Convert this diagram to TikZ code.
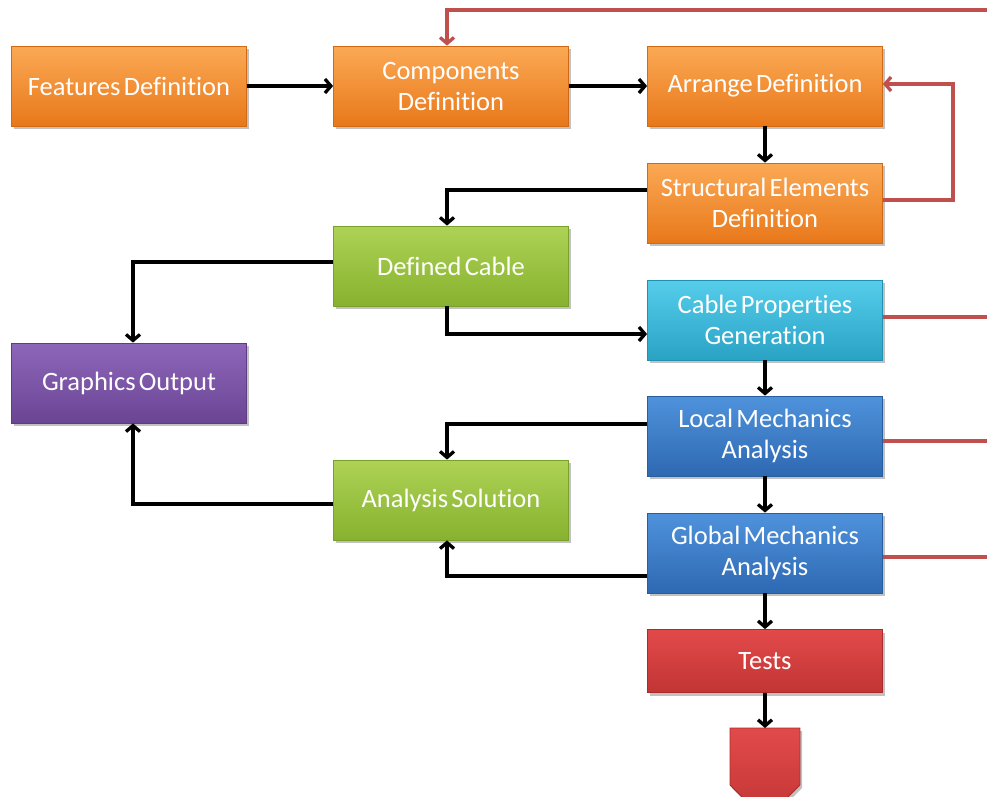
\documentclass[tikz,border=0pt]{standalone}
\usepackage{fontspec}
\setmainfont{Carlito}[Ligatures=NoCommon, WordSpace=0.55]
\usetikzlibrary{arrows.meta,shadows}

% fill colours (top / bottom of each gradient) and edges
\definecolor{orT}{HTML}{FBA955}\definecolor{orB}{HTML}{E8781A}\definecolor{orE}{HTML}{D06A14}
\definecolor{grT}{HTML}{AED255}\definecolor{grB}{HTML}{87B22F}\definecolor{grE}{HTML}{78A02A}
\definecolor{cyT}{HTML}{55CDEB}\definecolor{cyB}{HTML}{2AA2C4}\definecolor{cyE}{HTML}{2290AE}
\definecolor{blT}{HTML}{4F92DC}\definecolor{blB}{HTML}{2E69B2}\definecolor{blE}{HTML}{285D9E}
\definecolor{puT}{HTML}{8D66BA}\definecolor{puB}{HTML}{6B4594}\definecolor{puE}{HTML}{5E3C84}
\definecolor{rdT}{HTML}{E24A4A}\definecolor{rdB}{HTML}{C23434}\definecolor{rdE}{HTML}{A82C2C}
\definecolor{loopred}{HTML}{C0504D}

\tikzset{
  box/.style={rectangle, minimum width=235pt, minimum height=80pt, inner sep=0pt,
    align=center, text=white, font=\fontsize{26.5}{31}\selectfont, line width=0.8pt,
    drop shadow={shadow xshift=2pt, shadow yshift=-3pt, opacity=0.35, fill=black!70}},
  orangebox/.style={box, top color=orT, bottom color=orB, draw=orE},
  greenbox/.style={box, top color=grT, bottom color=grB, draw=grE},
  cyanbox/.style={box, top color=cyT, bottom color=cyB, draw=cyE},
  bluebox/.style={box, top color=blT, bottom color=blB, draw=blE},
  purplebox/.style={box, top color=puT, bottom color=puB, draw=puE},
  redbox/.style={box, top color=rdT, bottom color=rdB, draw=rdE},
  flow/.style={draw=black, line width=3.3pt, line join=miter,
    -{Straight Barb[length=6pt, width=14pt]}},
  loopback/.style={draw=loopred, line width=3.3pt,
    -{Straight Barb[length=6pt, width=14pt]}},
  loopline/.style={draw=loopred, line width=3.3pt},
}

\begin{document}
\begin{tikzpicture}[x=1pt, y=-1pt]
\useasboundingbox (0,0) rectangle (987,796);

% process boxes
\node[orangebox] (feat)   at (129,86)  {Features Definition};
\node[orangebox] (comp)   at (451,86)  {Components\\Definition};
\node[orangebox] (arr)    at (765,86)  {Arrange Definition};
\node[orangebox] (struct) at (765,203)  {Structural Elements\\Definition};
\node[greenbox]  (cable)  at (451,266) {Defined Cable};
\node[cyanbox]   (cprop)  at (765,320) {Cable Properties\\Generation};
\node[purplebox] (gfx)    at (129,383) {Graphics Output};
\node[bluebox]   (local)  at (765,436) {Local Mechanics\\Analysis};
\node[greenbox]  (sol)    at (451,500) {Analysis Solution};
\node[bluebox]   (global) at (765,553) {Global Mechanics\\Analysis};
\node[redbox, minimum height=63pt] (tests) at (765,661) {Tests};

% terminal pentagon below the tests
\coordinate (endtop) at (765,728);
\path[top color=rdT, bottom color=rdB, draw=rdE, line width=0.8pt,
      drop shadow={shadow xshift=2pt, shadow yshift=-3pt, opacity=0.35, fill=black!70}]
  (730,728) -- (800,728) -- (800,785) -- (765,820) -- (730,785) -- cycle;

% main flow
\draw[flow] (feat) -- (comp);
\draw[flow] (comp) -- (arr);
\draw[flow] (arr) -- (struct);
\draw[flow] ([yshift=13pt]struct.west) -| ([xshift=-4pt]cable.north);
\draw[flow] ([yshift=4pt]cable.west) -| ([xshift=4pt]gfx.north);
\draw[flow] ([xshift=-4pt]cable.south) |- ([yshift=-14pt]cprop.west);
\draw[flow] (cprop) -- (local);
\draw[flow] ([yshift=12pt]local.west) -| ([xshift=-4pt]sol.north);
\draw[flow] (local) -- (global);
\draw[flow] ([yshift=-23pt]global.west) -| ([xshift=-4pt]sol.south);
\draw[flow] ([yshift=-4pt]sol.west) -| ([xshift=4pt]gfx.south);
\draw[flow] (global) -- (tests);
\draw[flow] (tests) -- (endtop);

% feedback lines
\coordinate (rtop) at (987,10);
\coordinate (rcprop) at (987,317);
\coordinate (rlocal) at (987,441);
\coordinate (rglobal) at (987,557);
\coordinate (rloop) at (953,200);
\draw[loopback] (rtop) -| ([xshift=-4pt]comp.north);
\draw[loopback] ([yshift=3pt]struct.east) -- (rloop) |- ([yshift=2pt]arr.east);
\draw[loopline] ([yshift=3pt]cprop.east) -- (rcprop);
\draw[loopline] ([yshift=-5pt]local.east) -- (rlocal);
\draw[loopline] ([yshift=-4pt]global.east) -- (rglobal);
\end{tikzpicture}
\end{document}
